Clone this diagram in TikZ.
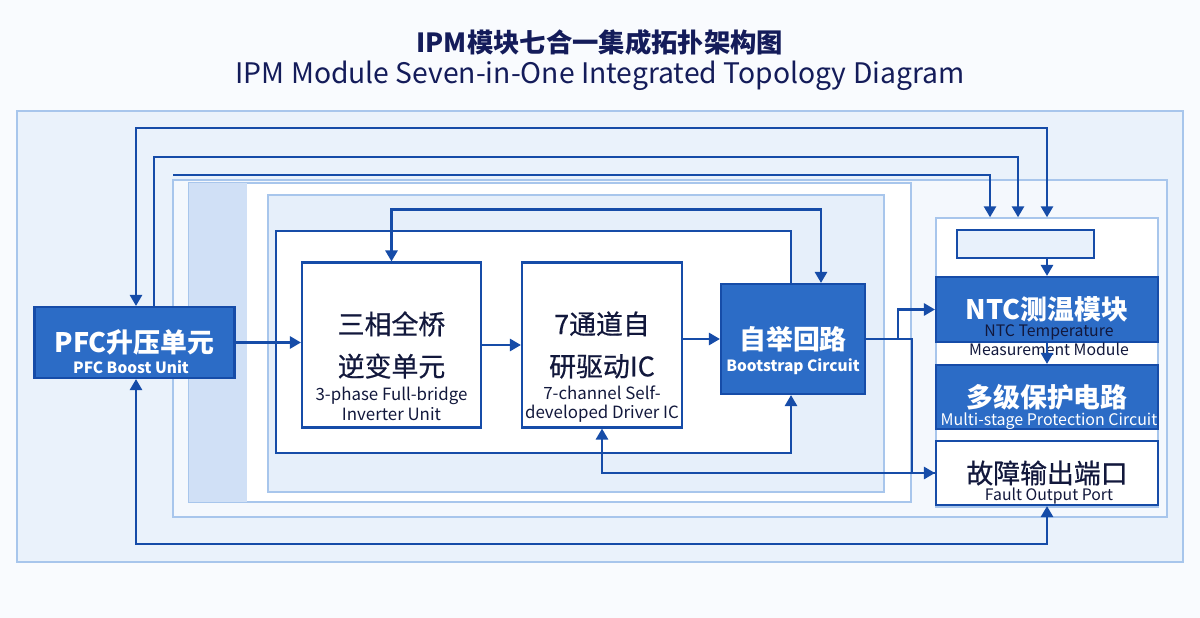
\documentclass[tikz,border=0pt]{standalone}
\usepackage{fontspec}
\setmainfont{Noto Sans CJK SC}
\newfontfamily\cnmedium[FakeBold=0.6]{Noto Sans CJK SC}
\usetikzlibrary{arrows.meta, positioning, calc}
\definecolor{titlenavy}{RGB}{20,28,90}
\definecolor{inknavy}{RGB}{18,24,60}
\definecolor{linkblue}{RGB}{22,76,168}
\definecolor{unitblue}{RGB}{44,108,198}
\definecolor{frameblue}{RGB}{168,198,236}
\definecolor{skyback}{RGB}{234,242,251}
\definecolor{paleback}{RGB}{244,248,253}
\definecolor{bandblue}{RGB}{208,224,246}
\definecolor{innerback}{RGB}{230,239,250}
\definecolor{boxpale}{RGB}{232,241,251}

\begin{document}
\begin{tikzpicture}[x=0.02cm, y=-0.02cm,
    unit/.style={rectangle, draw=linkblue, fill=unitblue, line width=1.2pt, text=white, align=center, inner sep=0pt, font=\fontsize{15.3}{21}\selectfont\bfseries},
    hollow/.style={rectangle, draw=linkblue, fill=white, line width=1.2pt, text=inknavy, align=center, inner sep=0pt, font=\fontsize{15.3}{21}\selectfont\cnmedium},
    frame/.style={draw=frameblue, line width=0.8pt},
    sub/.style={align=center, inner sep=0pt, text=inknavy, font=\fontsize{9}{11.2}\selectfont},
    subwhite/.style={align=center, inner sep=0pt, text=white, font=\fontsize{8.8}{11.2}\selectfont\bfseries},
    link/.style={-{Triangle[length=2.2mm, width=2.4mm]}, line width=1.5pt, color=linkblue},
    both/.style={{Triangle[length=2.2mm, width=2.4mm]}-{Triangle[length=2.2mm, width=2.4mm]}, line width=1.5pt, color=linkblue}
]

% Canvas and frames
\useasboundingbox (0,0) rectangle (1200,618);
\fill[white!50!paleback] (0,0) rectangle (1200,618);
\filldraw[frame, fill=skyback] (17,111) rectangle (1183,562);
\filldraw[frame, fill=paleback] (173,180) rectangle (1167,517);
\filldraw[frame, fill=white] (189,183) rectangle (911,502);
\fill[bandblue] (189,183) rectangle (247,502);
\filldraw[frame, fill=innerback] (268,195) rectangle (884,492);
\fill[white] (276,231) rectangle (791,453);

% Title
\node[font=\fontsize{15}{17}\selectfont\bfseries, text=titlenavy] (title-cn) at (600,42) {IPM模块七合一集成拓扑架构图};
\node[font=\fontsize{16.1}{19}\selectfont, text=titlenavy] (title-en) at (600,76) {IPM Module Seven-in-One Integrated Topology Diagram};

% Main chain
\node[unit, minimum width=4.0cm, minimum height=1.42cm] (pfc) at (134.5,342.5) {PFC升压单元};
\node[subwhite] (pfc-en) at (131,367) {PFC Boost Unit};

\node[hollow, minimum width=3.58cm, minimum height=3.3cm] (inv) at (391.5,345) {三相全桥\\[3pt]逆变单元};
\node[sub, font=\fontsize{9.6}{11.2}\selectfont] (inv-en) at (391.5,404) {3-phase Full-bridge\\Inverter Unit};

\node[hollow, minimum width=3.2cm, minimum height=3.3cm] (drv) at (602,345) {7通道自\\[3pt]研驱动IC};
\node[sub, font=\fontsize{9.6}{11.2}\selectfont] (drv-en) at (602,404) {7-channel Self-\\developed Driver IC};

\node[unit, minimum width=2.88cm, minimum height=2.2cm] (boot) at (793,339) {自举回路};
\node[subwhite] (boot-en) at (793,367) {Bootstrap Circuit};

% Protection panel
\node[frame, fill=white, minimum width=4.44cm, minimum height=5.78cm] (panel) at (1047,362.5) {};
\node[hollow, fill=boxpale, minimum width=2.74cm, minimum height=0.56cm] (ebox) at (1025.5,244) {};
\node[unit, minimum width=4.44cm, minimum height=1.3cm] (ntc) at (1047,309.5) {NTC测温模块};
\node[sub, font=\fontsize{9}{10.6}\selectfont] (ntc-en) at (1049,340) {NTC Temperature\\Measurement Module};
\node[unit, minimum width=4.44cm, minimum height=1.28cm] (multi) at (1047,397) {多级保护电路};
\node[subwhite, font=\fontsize{9.1}{11.2}\selectfont] (multi-en) at (1049,421) {Multi-stage Protection Circuit};
\node[hollow, minimum width=4.44cm, minimum height=1.28cm] (fault) at (1047,473) {故障输出端口};
\node[sub] (fault-en) at (1049,496) {Fault Output Port};

% Free start of the third bus
\coordinate (bus3) at (173,175);

% Signal flow
\draw[link] (pfc.east) -- (pfc.east -| inv.west);
\draw[link] (inv.east) -- (inv.east -| drv.west);
\draw[link] (drv.east |- boot.west) -- (boot.west);
\draw[link] (boot.east) -- ++(32,0) |- (ntc.west);
\draw[link] (boot.east) -- ++(46,0) |- (fault.west);
\draw[link] (fault.west) -| (drv.south);
\draw[link] (ntc.north |- ebox.south) -- (ntc.north);
\draw[link] (ntc.south) -- (multi.north);

% Bootstrap loop
\coordinate (loop-tl) at (276,231);
\coordinate (loop-bl) at (276,453);
\draw[link] ([xshift=-0.04cm]boot.north) |- (loop-tl) -- (loop-bl) -| ([xshift=-0.04cm]boot.south);
\draw[both] (inv.north) -- ++(0,-52) -| ([xshift=0.56cm]boot.north);

% Outer buses
\draw[both] ([xshift=0.03cm]pfc.north) -- ++(0,-178) -| (panel.north);
\draw[link] ([xshift=0.39cm]pfc.north) -- ++(0,-149) -| ([xshift=-0.58cm]panel.north);
\draw[link] (bus3) -| ([xshift=-1.14cm]panel.north);
\draw[both] ([xshift=0.03cm]pfc.south) -- ++(0,165) -| (fault.south);

\end{tikzpicture}
\end{document}
